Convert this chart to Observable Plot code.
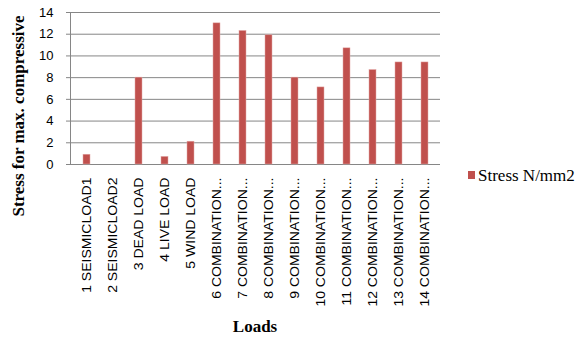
<!DOCTYPE html>
<html>
<head>
<meta charset="utf-8">
<script src="https://cdn.jsdelivr.net/npm/d3@7"></script>
<script src="https://cdn.jsdelivr.net/npm/@observablehq/plot@0.6"></script>
<style>
  body { margin: 0; background: #fff; }
  #wrap { position: relative; width: 577px; height: 339px; overflow: hidden; }
  #wrap svg { position: absolute; left: 0; top: 0; }
  .serif { font-family: "Liberation Serif", "Times New Roman", serif; color: #000; white-space: nowrap; line-height: 17px; font-size: 17px; }
  #ytitle { position: absolute; left: 17.5px; top: 115.5px; font-weight: bold; transform: translate(-50%, -50%) rotate(-90deg); }
  #xtitle { position: absolute; left: 255px; top: 317.7px; font-weight: bold; transform: translateX(-50%); }
  #legend-swatch { position: absolute; left: 468px; top: 171px; width: 7px; height: 8px; background: #C0504D; }
  #legend-text { position: absolute; left: 478px; top: 166.7px; }
</style>
</head>
<body>
<div id="wrap">
  <div id="ytitle" class="serif">Stress for max. compressive</div>
  <div id="xtitle" class="serif">Loads</div>
  <div id="legend-swatch"></div>
  <div id="legend-text" class="serif">Stress N/mm2</div>
</div>
<script>
// Load cases along the x axis
const loads = [
  "1 SEISMICLOAD1", "2 SEISMICLOAD2", "3 DEAD LOAD", "4 LIVE LOAD", "5 WIND LOAD",
  "6 COMBINATION...", "7 COMBINATION...", "8 COMBINATION...", "9 COMBINATION...",
  "10 COMBINATION...", "11 COMBINATION...", "12 COMBINATION...", "13 COMBINATION...",
  "14 COMBINATION..."
];
// Stress for max. compressive, N/mm2
const stress = [0.9, 0, 8.0, 0.7, 2.1, 13.0, 12.3, 11.9, 8.0, 7.1, 10.7, 8.7, 9.4, 9.4];
const yTicks = [0, 2, 4, 6, 8, 10, 12, 14];

const rows = loads.map((load, i) => ({load, stress: stress[i]}));
const gray = "#868686";

const chart = Plot.plot({
  width: 577,
  height: 339,
  marginLeft: 70,
  marginRight: 137,
  marginTop: 12,
  marginBottom: 175,
  style: {fontFamily: "'Liberation Sans', Arial, sans-serif", color: "#000", background: "transparent"},
  x: {domain: loads, paddingInner: 0.75, paddingOuter: 0.375, align: 0.5},
  y: {domain: [0, 14]},
  marks: [
    Plot.gridY(yTicks, {stroke: gray, strokeOpacity: 1}),
    Plot.ruleY([0], {stroke: gray}),
    Plot.frame({anchor: "left", stroke: gray}),
    Plot.barY(rows, {x: "load", y: "stress", fill: "#C0504D", stroke: "#E3A9A7", strokeWidth: 0.5}),
    Plot.axisY(yTicks, {tickSize: 4, tickPadding: 13, fontSize: 13, stroke: gray, label: null}),
    Plot.axisX({tickSize: 0, tickPadding: 13, tickRotate: -90, fontSize: 12, label: null})
  ]
});

// Stretch the rotated category labels along their reading direction
d3.select(chart).selectAll('g[aria-label="x-axis tick label"] text').each(function() {
  const t = this.getAttribute("transform") || "";
  this.setAttribute("transform", t + " scale(1.17,1)");
});

document.getElementById("wrap").prepend(chart);
</script>
</body>
</html>
